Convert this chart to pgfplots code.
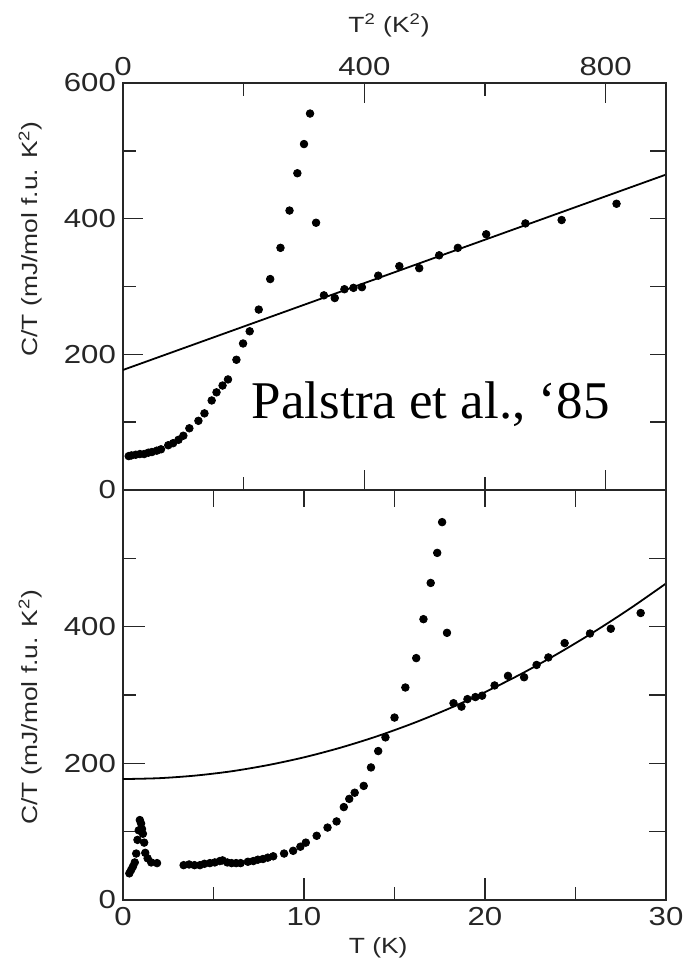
\documentclass[border=0pt]{standalone}
\usepackage{pgfplots}
\pgfplotsset{compat=1.18}
\usepackage{pgfplotstable}
\usepackage{fontspec}
\setmainfont{Liberation Sans}[FakeStretch=1.2]
\newfontfamily\citefont{Liberation Serif}

% C/T against T^2 (upper panel)
\pgfplotstableread{
t2 c
9.5 50
14 51
21 52
28 53
35 53
42 55
48 56
56 58
63 60
75 66
83 69
92 74
100 80
110 91
125 102
135 113
147 132
155 144
165 154
174 163
188 192
199 216
210 234
225 266
244 311
261 357
276 412
289 467
300 510
310 555
320 394
333 287
351 283
367 296
382 298
396 299
423 316
458 330
491 327
524 346
555 357
602 377
667 393
727 398
818 422
}\sqtable

% C/T against T (lower panel)
\pgfplotstableread{
t c
0.35 39
0.45 44
0.55 49
0.65 55
0.73 68
0.80 88
0.87 102
0.93 117
1.00 112
1.05 104
1.10 97
1.17 84
1.23 69
1.36 61
1.56 55
1.88 54
3.35 51
3.65 52
3.95 51
4.25 51
4.50 53
4.80 54
5.07 55
5.35 57
5.50 58
5.76 55
6.00 54
6.25 54
6.50 54
6.90 56
7.20 57
7.45 59
7.73 60
8.00 62
8.30 64
8.90 68
9.40 72
9.80 78
10.10 84
10.70 94
11.30 106
11.80 115
12.20 136
12.50 148
12.80 157
13.30 167
13.70 194
14.10 218
14.50 238
15.00 267
15.60 311
16.20 354
16.60 411
17.00 464
17.36 508
17.63 553
17.90 391
18.26 288
18.70 283
19.03 294
19.47 297
19.84 299
20.53 314
21.27 328
22.16 326
22.85 344
23.50 355
24.40 376
25.80 390
26.95 397
28.60 420
}\lintable

% fitted gamma + beta T^2 curve
\pgfplotstableread{
t c
0 177.0
2 178.3
4 182.1
6 188.4
8 197.4
10 208.8
12 222.8
14 239.3
16 258.4
18 280.0
20 304.2
22 330.9
24 360.2
26 392.0
28 426.3
30 463.2
}\fittable

\definecolor{ink}{gray}{0.15}

\begin{document}
\begin{tikzpicture}
\useasboundingbox (0,0) rectangle (341.5pt,-484.5pt);
\pgfplotsset{
  panel/.style={
    scale only axis, width=271.5pt,
    ymin=0, ymax=600,
    axis line style={line width=0.9pt, ink},
    every tick/.style={line width=0.8pt, ink},
    tick align=inside,
    tick label style={font=\fontsize{13}{15}\selectfont, text=ink},
    label style={font=\fontsize{11}{13}\selectfont, text=ink},
    /pgf/number format/assume math mode=true,
    clip=false,
  },
  dots/.style={only marks, mark=*, mark size=1.9pt, black},
  fit/.style={black, line width=0.9pt, no marks},
}

% ---------- upper panel: C/T vs T^2 ----------
\begin{axis}[panel, at={(61.5pt,-245pt)}, anchor=south west, height=203.5pt,
  xmin=0, xmax=900,
  xtick={0,400,800}, minor xtick={200,600},
  xtick pos=both, xticklabel pos=right,
  ytick={0,200,400,600}, minor ytick={100,300,500}, ytick pos=left,
  major tick length=10pt, minor tick length=6.5pt,
  xlabel={T\textsuperscript{2} (K\textsuperscript{2})},
  xlabel style={at={(axis description cs:0.49,1.142)}, anchor=center},
  ylabel={C/T (mJ/mol f.u. K\textsuperscript{2})},
  ylabel style={at={(axis description cs:-0.171,0.617)}, anchor=center},
]
\addplot[fit] coordinates {(0,177) (900,465)};
\addplot[dots] table[x=t2, y=c] {\sqtable};
\node[anchor=base west, font=\citefont\fontsize{26.5}{30}\selectfont, text=black]
  at (axis cs:202,106) {Palstra et al., ‘85};
\end{axis}
\begin{axis}[panel, at={(61.5pt,-245pt)}, anchor=south west, height=203.5pt,
  xmin=0, xmax=900, hide x axis, axis y line*=right,
  ytick={100,200,300,400,500}, yticklabels={},
  major tick length=8pt]
\end{axis}

% ---------- lower panel: C/T vs T ----------
\begin{axis}[panel, at={(61.5pt,-450pt)}, anchor=south west, height=205pt,
  xmin=0, xmax=30,
  xtick={0,10,20,30}, minor xtick={5,15,25}, xtick pos=left,
  ytick={0,200,400}, minor ytick={100,300,500}, ytick pos=left,
  major tick length=11pt, minor tick length=6.5pt,
  xlabel={T (K)},
  xlabel style={at={(axis description cs:0.47,-0.117)}, anchor=center},
  ylabel={C/T (mJ/mol f.u. K\textsuperscript{2})},
  ylabel style={at={(axis description cs:-0.171,0.47)}, anchor=center},
]
\addplot[fit, smooth] table[x=t, y=c] {\fittable};
\addplot[dots] table[x=t, y=c] {\lintable};
\end{axis}
\begin{axis}[panel, at={(61.5pt,-450pt)}, anchor=south west, height=205pt,
  xmin=0, xmax=30, axis x line*=top, axis y line*=right,
  xtick={5,10,15,20,25}, xticklabels={},
  ytick={100,200,300,400,500}, yticklabels={},
  major tick length=8.5pt]
\end{axis}
\end{tikzpicture}
\end{document}
